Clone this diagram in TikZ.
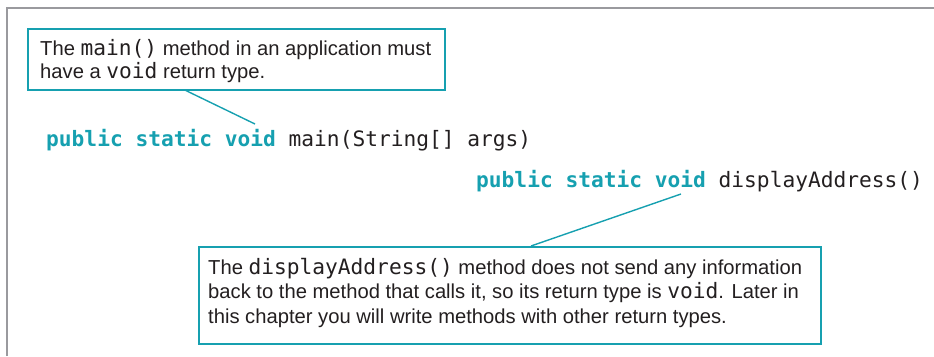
\documentclass[tikz,border=0pt]{standalone}
\usepackage{fontspec}
\setmainfont{Liberation Sans}
\newfontfamily\codefont{DejaVu Sans Mono}
\usetikzlibrary{calc}
\definecolor{tealc}{RGB}{22,160,176}
\definecolor{framegray}{RGB}{154,154,158}
\definecolor{txt}{RGB}{35,31,32}
\newcommand{\kw}[1]{{\codefont\bfseries\color{tealc}#1}}
\newcommand{\cd}[1]{{\codefont\fontsize{21.2}{23.5}\selectfont #1}}
\begin{document}
\begin{tikzpicture}[x=1pt,y=-1pt,
  callout/.style={draw=tealc, line width=1.6pt, fill=white, inner sep=0pt, anchor=north west},
  bodytext/.style={anchor=base west, inner sep=0pt, align=left, text=txt},
  codeline/.style={anchor=base west, inner sep=0pt, font=\codefont\fontsize{21.2}{24}\selectfont, text=txt},
  leader/.style={draw=tealc, line width=1.4pt}]
\useasboundingbox (0,0) rectangle (934,356);
\draw[framegray, line width=2pt] (6.5,356) -- (6.5,7.5) -- (934,7.5);

\node[callout, minimum width=417pt, minimum height=61pt] (box1) at (27,28) {};
\node[bodytext, font=\fontsize{20.2}{23}\selectfont] (t1) at (40,78)
  {The \cd{main()} method in an application must\\have a \cd{void} return type.};

\node[codeline] (code1) at (46,146) {\kw{public static void} main(String[] args)};
\node[codeline] (code2) at (476,187) {\kw{public static void} displayAddress()};

\node[callout, minimum width=622pt, minimum height=97pt] (box2) at (198,246) {};
\node[bodytext, font=\fontsize{20.2}{24.5}\selectfont] (t2) at (208,323)
  {The \cd{displayAddress()} method does not send any information\\
   back to the method that calls it, so its return type is \cd{void}. Later in\\
   this chapter you will write methods with other return types.};

\draw[leader] ($(box1.south west)+(159,0)$) -- ($(code1.base west)+(209,-22)$);
\draw[leader] ($(code2.base west)+(205,7)$) -- ($(box2.north west)+(333,0)$);
\end{tikzpicture}
\end{document}
